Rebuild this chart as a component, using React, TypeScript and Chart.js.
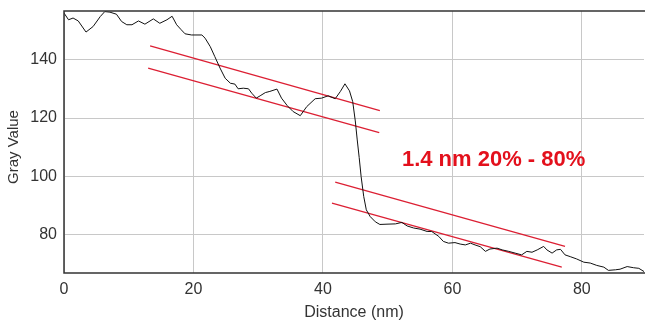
import React, { useEffect, useRef } from "react";
import { Chart, registerables } from "chart.js";

Chart.register(...registerables);

// Line profile (Distance nm -> Gray Value)
const profileX = [
  0, 0.7, 1.4, 2.2, 3.4, 4.5, 5.6, 6.3, 7.1, 8.1, 8.9, 9.7, 10.5, 11.5, 12.5, 13.8, 14.8, 15.9, 16.7, 17.4,
  18.1, 18.7, 19.7, 21.3, 21.8, 22.6, 23.3, 24.1, 24.9, 25.7, 26.4, 26.9, 27.7, 28.5, 29.0, 29.7, 30.3, 31.1,
  31.8, 32.9, 33.6, 34.5, 35.4, 36.5, 37.5, 38.8, 39.8, 40.8, 41.9, 42.7, 43.4, 44.1, 44.6, 45.0, 45.3, 45.6,
  45.9, 46.3, 46.7, 47.3, 48.1, 48.8, 49.9, 51.2, 52.2, 53.0, 54.0, 55.0, 56.1, 56.8, 57.9, 58.6, 59.4, 60.4,
  61.2, 62.0, 62.8, 63.5, 64.3, 65.1, 65.8, 66.9, 67.7, 68.7, 69.7, 70.7, 71.5, 72.3, 73.1, 74.1, 74.6, 75.4,
  76.1, 76.7, 77.4, 78.2, 79.2, 80.3, 81.3, 82.3, 83.4, 84.1, 85.2, 85.9, 87.0, 88.0, 88.8, 89.6,
];
const profileY = [
  155.9, 153.6, 154.2, 153.2, 149.4, 151.3, 154.7, 156.4, 156.2, 155.5, 153.0, 151.9, 151.9, 153.2, 152.1, 153.9,
  152.4, 153.6, 154.8, 151.9, 150.2, 148.8, 148.4, 148.4, 147.3, 144.4, 141.0, 137.1, 133.6, 131.9, 131.6, 130.0,
  130.2, 130.0, 128.5, 126.8, 127.6, 128.7, 129.1, 129.9, 126.8, 124.2, 122.2, 120.8, 123.9, 126.6, 126.8, 127.6,
  126.6, 129.1, 131.7, 129.3, 125.6, 119.0, 112.5, 106.5, 100.0, 93.2, 88.6, 86.3, 84.5, 83.6, 83.7, 83.8, 84.3,
  83.1, 82.4, 82.0, 81.2, 81.2, 79.5, 77.8, 77.2, 77.4, 76.9, 76.6, 77.2, 76.6, 76.0, 74.4, 75.2, 75.5, 74.9,
  74.4, 73.8, 73.2, 74.4, 74.1, 74.9, 76.1, 74.9, 73.8, 74.9, 75.1, 73.2, 72.6, 71.8, 70.7, 70.4, 69.6, 69.0,
  67.9, 68.1, 68.3, 69.2, 68.8, 68.6, 67.5,
];

// Red guide lines (start/end)
const fitAX = [13.3, 48.8];
const fitAY = [144.7, 122.5];
const fitBX = [13.0, 48.7];
const fitBY = [137.1, 115.0];
const fitCX = [41.9, 77.4];
const fitCY = [98.1, 76.1];
const fitDX = [41.4, 76.9];
const fitDY = [90.9, 69.0];

const xTicks = [0, 20, 40, 60, 80];
const yTicks = [80, 100, 120, 140];
const xRange = [0, 89.6];
const yRange = [67, 156.6];

const annotationText = "1.4 nm 20% - 80%";
const annotationAt = [52.2, 105.7];
const yTitle = "Gray Value";

const FONT = "'Liberation Sans', Arial, sans-serif";
const RED = "#dc1f33";

const toPts = (xs: number[], ys: number[]) => xs.map((x, i) => ({ x, y: ys[i] }));

export default function App() {
  const ref = useRef<HTMLCanvasElement>(null);

  useEffect(() => {
    document.body.style.margin = "0";
    const canvas = ref.current;
    if (!canvas) return;

    const framePlugin = {
      id: "frame",
      afterDatasetsDraw(chart: any) {
        const { ctx, chartArea } = chart;
        const { left, right, top, bottom } = chartArea;
        ctx.save();
        ctx.strokeStyle = "#333";
        ctx.lineWidth = 1.5;
        ctx.beginPath();
        ctx.moveTo(right + 1, top);
        ctx.lineTo(left, top);
        ctx.lineTo(left, bottom);
        ctx.lineTo(right + 1, bottom);
        ctx.stroke();
        const xs = chart.scales.x;
        const ys = chart.scales.y;
        ctx.fillStyle = "#e3101c";
        ctx.font = `bold 22px ${FONT}`;
        ctx.textAlign = "left";
        ctx.textBaseline = "middle";
        ctx.fillText(
          annotationText,
          xs.getPixelForValue(annotationAt[0]),
          ys.getPixelForValue(annotationAt[1])
        );
        // y axis title
        ctx.fillStyle = "#333";
        ctx.font = `15px ${FONT}`;
        ctx.textAlign = "center";
        ctx.translate(14, (top + bottom) / 2 + 5);
        ctx.rotate(-Math.PI / 2);
        ctx.fillText(yTitle, 0, 0);
        ctx.restore();
      },
    };

    const redLine = (xs: number[], ys: number[]) => ({
      data: toPts(xs, ys),
      showLine: true,
      borderColor: RED,
      borderWidth: 1.3,
      pointRadius: 0,
      fill: false,
    });

    const chart = new Chart(canvas, {
      type: "scatter",
      data: {
        datasets: [
          {
            data: toPts(profileX, profileY),
            showLine: true,
            borderColor: "#111",
            borderWidth: 1,
            pointRadius: 0,
            tension: 0,
            fill: false,
          },
          redLine(fitAX, fitAY),
          redLine(fitBX, fitBY),
          redLine(fitCX, fitCY),
          redLine(fitDX, fitDY),
        ] as any,
      },
      options: {
        animation: false,
        responsive: false,
        devicePixelRatio: 1,
        layout: { padding: { top: 11, right: 1, left: 0, bottom: 0 } },
        plugins: { legend: { display: false }, tooltip: { enabled: false } },
        scales: {
          x: {
            type: "linear",
            min: xRange[0],
            max: xRange[1],
            afterBuildTicks: (s: any) => {
              s.ticks = xTicks.map((v) => ({ value: v }));
            },
            afterFit: (s: any) => {
              s.height = 50;
              s.paddingLeft = 0;
              s.paddingRight = 0;
            },
            grid: { color: "#c8c8c8", lineWidth: 1, drawTicks: false },
            border: { display: false },
            ticks: {
              padding: 7,
              color: "#333",
              font: { family: FONT, size: 16 },
              maxRotation: 0,
            },
            title: {
              display: true,
              text: "Distance (nm)",
              color: "#333",
              font: { family: FONT, size: 16 },
              padding: { top: 4, bottom: 1 },
            },
          },
          y: {
            type: "linear",
            min: yRange[0],
            max: yRange[1],
            afterBuildTicks: (s: any) => {
              s.ticks = yTicks.map((v) => ({ value: v }));
            },
            afterFit: (s: any) => {
              s.width = 64;
              s.paddingTop = 0;
              s.paddingBottom = 0;
            },
            grid: { color: "#c8c8c8", lineWidth: 1, drawTicks: false },
            border: { display: false },
            ticks: {
              padding: 7,
              color: "#333",
              font: { family: FONT, size: 16 },
            },
            title: { display: false },
          },
        },
      },
      plugins: [framePlugin],
    } as any);

    return () => chart.destroy();
  }, []);

  return (
    <div style={{ width: 645, height: 323, position: "relative" }}>
      <canvas ref={ref} width={645} height={323} style={{ display: "block" }} />
    </div>
  );
}
